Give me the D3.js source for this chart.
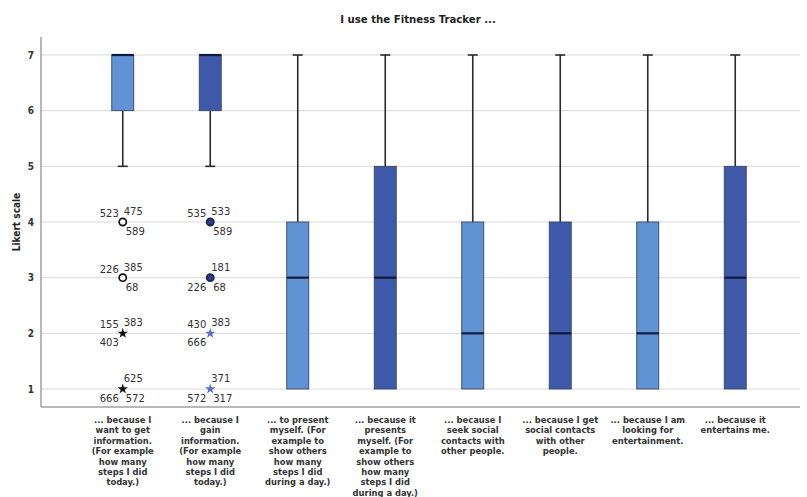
<!DOCTYPE html>
<html>
<head>
<meta charset="utf-8">
<script src="https://cdn.jsdelivr.net/npm/d3@7/dist/d3.min.js"></script>
<style>
  html, body { margin: 0; padding: 0; background: #fff; }
  svg { display: block; }
</style>
</head>
<body>
<svg id="chart" width="807" height="497"></svg>
<script>
// Survey items (x-axis tick labels, one array of lines per item)
const categoryLabels = [
  ["... because I", "want to get", "information.", "(For example", "how many", "steps I did", "today.)"],
  ["... because I", "gain", "information.", "(For example", "how many", "steps I did", "today.)"],
  ["... to present", "myself. (For", "example to", "show others", "how many", "steps I did", "during a day.)"],
  ["... because it", "presents", "myself. (For", "example to", "show others", "how many", "steps I did", "during a day.)"],
  ["... because I", "seek social", "contacts with", "other people."],
  ["... because I get", "social contacts", "with other", "people."],
  ["... because I am", "looking for", "entertainment."],
  ["... because it", "entertains me."]
];
const categories = categoryLabels.map((_, i) => "item" + (i + 1));

// Box plot statistics per item
const whiskerLow  = [5, 5, 1, 1, 1, 1, 1, 1];
const q1          = [6, 6, 1, 1, 1, 1, 1, 1];
const median      = [7, 7, 3, 3, 2, 2, 2, 3];
const q3          = [7, 7, 4, 5, 4, 4, 4, 5];
const whiskerHigh = [7, 7, 7, 7, 7, 7, 7, 7];

// Outliers (circle) and extreme values (star) with case numbers:
// ids = [upper-left, upper-right, lower-left, lower-right]
const outliersItem1 = [
  { value: 4, kind: "circle", ids: ["523", "475", "", "589"] },
  { value: 3, kind: "circle", ids: ["226", "385", "", "68"] },
  { value: 2, kind: "star",   ids: ["155", "383", "403", ""] },
  { value: 1, kind: "star",   ids: ["", "625", "666", "572"] }
];
const outliersItem2 = [
  { value: 4, kind: "circle", ids: ["535", "533", "", "589"] },
  { value: 3, kind: "circle", ids: ["", "181", "226", "68"] },
  { value: 2, kind: "star",   ids: ["430", "383", "666", ""] },
  { value: 1, kind: "star",   ids: ["", "371", "572", "317"] }
];
const outlierSets = [outliersItem1, outliersItem2, [], [], [], [], [], []];

const yTicks = [1, 2, 3, 4, 5, 6, 7];
const titleText = "I use the Fitness Tracker ...";
const yTitle = "Likert scale";

// ---- drawing ----
const svg = d3.select("#chart");
const plotLeft = 41, plotRight = 800;

const y = d3.scaleLinear().domain([1, 7]).range([389, 55]);
const x = d3.scaleBand().domain(categories).range([79, 779]).padding(0);
const cx = c => x(c) + x.bandwidth() / 2;
const plotTop = 37, plotBottom = 407;

const lightFill = "#5f93d3", darkFill = "#3f59aa";
const boxW = 22, capW = 10;

// Title
svg.append("text")
  .attr("x", 418).attr("y", 23)
  .attr("text-anchor", "middle")
  .attr("font-family", "'DejaVu Sans Condensed', 'DejaVu Sans', sans-serif")
  .attr("font-weight", "bold")
  .attr("font-size", 11.3)
  .attr("fill", "#222")
  .text(titleText);

// Gridlines
svg.append("g").selectAll("line")
  .data(yTicks).join("line")
  .attr("x1", plotLeft).attr("x2", plotRight)
  .attr("y1", d => y(d)).attr("y2", d => y(d))
  .attr("stroke", "#d9d9d9").attr("stroke-width", 1);

// Y axis
const yAxis = d3.axisLeft(y).tickValues(yTicks).tickSize(0).tickPadding(7).tickFormat(d3.format("d"));
const yg = svg.append("g").attr("transform", `translate(${plotLeft},0)`).call(yAxis);
yg.select(".domain").remove();
yg.selectAll("text")
  .attr("font-family", "'DejaVu Sans Condensed', 'DejaVu Sans', sans-serif")
  .attr("font-weight", "bold").attr("font-size", 10).attr("fill", "#333");

svg.append("line")
  .attr("x1", plotLeft).attr("x2", plotLeft)
  .attr("y1", plotTop).attr("y2", plotBottom)
  .attr("stroke", "#a0a0a0").attr("stroke-width", 1.5);
svg.append("line")
  .attr("x1", plotLeft).attr("x2", plotRight)
  .attr("y1", plotBottom).attr("y2", plotBottom)
  .attr("stroke", "#a0a0a0").attr("stroke-width", 1.5);

svg.append("text")
  .attr("transform", `translate(20,222) rotate(-90)`)
  .attr("text-anchor", "middle")
  .attr("font-family", "'DejaVu Sans Condensed', 'DejaVu Sans', sans-serif")
  .attr("font-weight", "bold").attr("font-size", 10).attr("fill", "#222")
  .text(yTitle);

// X tick labels
const xg = svg.append("g");
categories.forEach((c, i) => {
  const t = xg.append("text")
    .attr("x", cx(c)).attr("y", 423)
    .attr("text-anchor", "middle")
    .attr("font-family", "'DejaVu Sans Condensed', 'DejaVu Sans', sans-serif")
    .attr("font-weight", "bold").attr("font-size", 9.3).attr("fill", "#333");
  categoryLabels[i].forEach((line, k) => {
    t.append("tspan").attr("x", cx(c)).attr("dy", k === 0 ? 0 : 10.4).text(line);
  });
});

// Boxes
const boxes = svg.append("g");
categories.forEach((c, i) => {
  const g = boxes.append("g");
  const xc = cx(c);
  // whiskers
  const segs = [];
  if (whiskerLow[i] < q1[i]) segs.push([whiskerLow[i], q1[i]]);
  if (whiskerHigh[i] > q3[i]) segs.push([q3[i], whiskerHigh[i]]);
  segs.forEach(s => {
    g.append("line").attr("x1", xc).attr("x2", xc)
      .attr("y1", y(s[0])).attr("y2", y(s[1]))
      .attr("stroke", "#2a2a2a").attr("stroke-width", 1.6);
  });
  if (whiskerLow[i] < q1[i]) {
    g.append("line").attr("x1", xc - capW / 2).attr("x2", xc + capW / 2)
      .attr("y1", y(whiskerLow[i])).attr("y2", y(whiskerLow[i]))
      .attr("stroke", "#2a2a2a").attr("stroke-width", 1.6);
  }
  if (whiskerHigh[i] > q3[i]) {
    g.append("line").attr("x1", xc - capW / 2).attr("x2", xc + capW / 2)
      .attr("y1", y(whiskerHigh[i])).attr("y2", y(whiskerHigh[i]))
      .attr("stroke", "#2a2a2a").attr("stroke-width", 1.6);
  }
  // box
  g.append("rect")
    .attr("x", xc - boxW / 2).attr("width", boxW)
    .attr("y", y(q3[i])).attr("height", y(q1[i]) - y(q3[i]))
    .attr("fill", i % 2 === 0 ? lightFill : darkFill)
    .attr("stroke", "#3a4560").attr("stroke-width", 0.9);
  // median
  g.append("line")
    .attr("x1", xc - boxW / 2).attr("x2", xc + boxW / 2)
    .attr("y1", y(median[i])).attr("y2", y(median[i]))
    .attr("stroke", "#101a3c").attr("stroke-width", 2.2);
});

// Outliers and case labels
const star = d3.symbol().type(d3.symbolStar).size(34);
const marks = svg.append("g");
categories.forEach((c, i) => {
  const xc = cx(c);
  outlierSets[i].forEach(o => {
    const yy = y(o.value);
    if (o.kind === "circle") {
      marks.append("circle").attr("cx", xc).attr("cy", yy).attr("r", 3.6)
        .attr("fill", i === 0 ? "#fff" : "#2e3d85")
        .attr("stroke", i === 0 ? "#111" : "#1c2456")
        .attr("stroke-width", 1.7);
    } else {
      marks.append("path").attr("d", star)
        .attr("transform", `translate(${xc},${yy})`)
        .attr("fill", i === 0 ? "#111" : "#5a6fcc");
    }
    const pos = [
      { dx: -4, dy: -5, anchor: "end" },
      { dx: 1, dy: -7, anchor: "start" },
      { dx: -4, dy: 13, anchor: "end" },
      { dx: 3, dy: 13, anchor: "start" }
    ];
    o.ids.forEach((id, k) => {
      if (!id) return;
      marks.append("text")
        .attr("x", xc + pos[k].dx).attr("y", yy + pos[k].dy)
        .attr("text-anchor", pos[k].anchor)
        .attr("font-family", "'DejaVu Sans', sans-serif")
        .attr("font-size", 10).attr("fill", "#333")
        .text(id);
    });
  });
});
</script>
</body>
</html>
